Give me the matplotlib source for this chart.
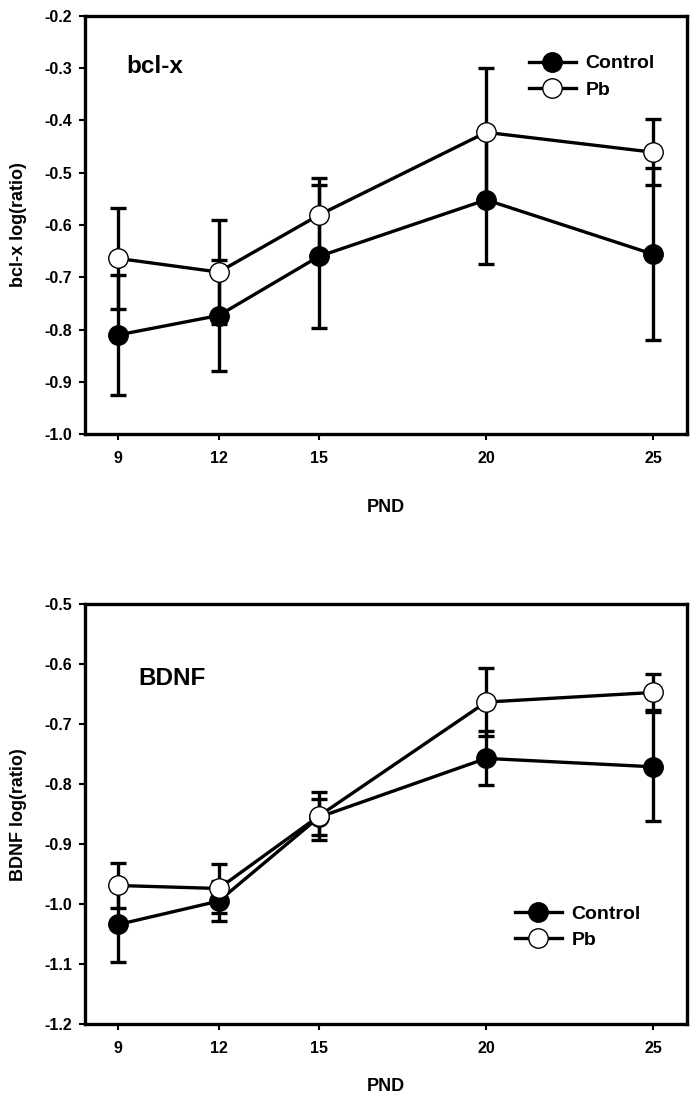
import matplotlib
matplotlib.use("Agg")
import matplotlib.pyplot as plt
from matplotlib.lines import Line2D

plt.rcParams['font.family'] = ['Liberation Sans', 'DejaVu Sans']
plt.rcParams['font.weight'] = 'bold'

pnd = [9, 12, 15, 20, 25]
x_ticks = [9, 12, 15, 20, 25]

# bcl-x panel
bcl_control = [-0.810, -0.773, -0.660, -0.552, -0.656]
bcl_control_err = [0.115, 0.106, 0.137, 0.122, 0.164]
bcl_pb = [-0.664, -0.690, -0.581, -0.423, -0.461]
bcl_pb_err = [0.096, 0.100, 0.070, 0.123, 0.063]

# BDNF panel
bdnf_control = [-1.034, -0.995, -0.855, -0.757, -0.771]
bdnf_control_err = [0.062, 0.034, 0.030, 0.045, 0.091]
bdnf_pb = [-0.969, -0.974, -0.853, -0.663, -0.647]
bdnf_pb_err = [0.037, 0.041, 0.040, 0.056, 0.030]

bcl_yticks = [-1.0, -0.9, -0.8, -0.7, -0.6, -0.5, -0.4, -0.3, -0.2]
bdnf_yticks = [-1.2, -1.1, -1.0, -0.9, -0.8, -0.7, -0.6, -0.5]

fig = plt.figure(figsize=(7.0, 11.02), dpi=100)
ax1 = fig.add_axes([0.1214, 0.6059, 0.8596, 0.3799])
ax2 = fig.add_axes([0.1214, 0.0708, 0.8596, 0.3808])

LW = 2.4
MS = 14


def draw(ax, ctrl, ctrl_err, pb, pb_err, yticks, ylabel, title, title_xy, leg_anchor):
    for y, e in ((ctrl, ctrl_err), (pb, pb_err)):
        ax.errorbar(pnd, y, yerr=e, fmt='none', ecolor='black', elinewidth=LW,
                    capsize=5.5, capthick=LW, zorder=2)
    ax.plot(pnd, ctrl, color='black', lw=LW, zorder=3)
    ax.plot(pnd, pb, color='black', lw=LW, zorder=3)
    ax.plot(pnd, ctrl, 'o', ms=MS, mfc='black', mec='black', mew=1, zorder=4)
    ax.plot(pnd, pb, 'o', ms=MS, mfc='white', mec='black', mew=1, zorder=5)

    ax.set_xlim(8, 26)
    ax.set_ylim(yticks[0], yticks[-1])
    ax.set_xticks(x_ticks)
    ax.set_xticklabels([str(v) for v in x_ticks])
    ax.set_yticks(yticks)
    ax.set_yticklabels([f"{v:.1f}" for v in yticks])
    for s in ax.spines.values():
        s.set_linewidth(2.4)
    ax.tick_params(axis='x', direction='out', length=4, width=1.5, labelsize=11.5, pad=8)
    ax.tick_params(axis='y', direction='out', length=4, width=1.5, labelsize=11.5, pad=5)
    for lbl in ax.get_xticklabels() + ax.get_yticklabels():
        lbl.set_fontweight('bold')

    ax.set_ylabel(ylabel, fontsize=13, fontweight='bold')
    ax.yaxis.set_label_coords(-0.096, 0.5)
    ax.set_xlabel('PND', fontsize=13, fontweight='bold')

    ax.text(title_xy[0], title_xy[1], title, fontsize=17.5, fontweight='bold',
            ha='left', va='center')

    handles = [
        Line2D([], [], color='black', lw=LW, marker='o', ms=MS, mfc='black', mec='black'),
        Line2D([], [], color='black', lw=LW, marker='o', ms=MS, mfc='white', mec='black'),
    ]
    leg = ax.legend(handles, ['Control', 'Pb'], loc='upper left', bbox_to_anchor=leg_anchor,
                    frameon=False, fontsize=14, handlelength=2.4, handletextpad=0.5,
                    labelspacing=0.45, borderaxespad=0)
    for t in leg.get_texts():
        t.set_fontweight('bold')


draw(ax1, bcl_control, bcl_control_err, bcl_pb, bcl_pb_err, bcl_yticks,
     'bcl-x log(ratio)', 'bcl-x', (9.25, -0.298), (0.725, 0.925))
draw(ax2, bdnf_control, bdnf_control_err, bdnf_pb, bdnf_pb_err, bdnf_yticks,
     'BDNF log(ratio)', 'BDNF', (9.6, -0.623), (0.702, 0.302))

ax1.xaxis.set_label_coords(0.5, -0.155)
ax2.xaxis.set_label_coords(0.5, -0.128)

fig.savefig('out.png', dpi=100)
